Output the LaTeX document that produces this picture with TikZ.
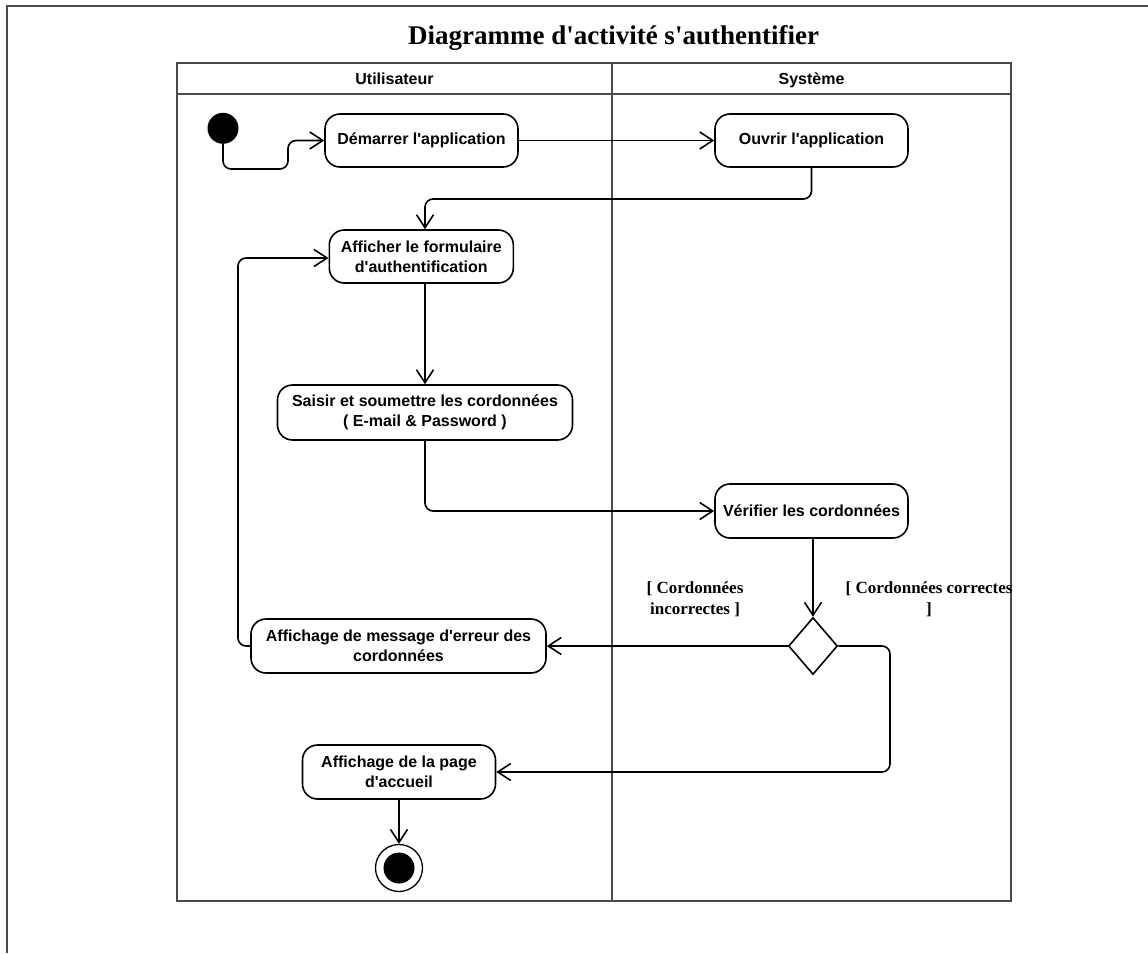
\documentclass[tikz,border=0pt]{standalone}
\usepackage{fontspec}
\setmainfont{Liberation Serif}
\newfontfamily\arialfont{Liberation Sans}
\usetikzlibrary{arrows.meta,shapes.geometric,calc}
\definecolor{framegray}{HTML}{4A4A4A}
\begin{document}
\begin{tikzpicture}[x=1pt,y=-1pt,
  action/.style={draw=black,line width=1.6pt,rounded corners=15pt,align=center,
    inner sep=0pt,font=\arialfont\bfseries\fontsize{16}{20}\selectfont},
  flow/.style={draw=black,line width=1.6pt,rounded corners=8pt,
    -{Straight Barb[length=13pt,width=17pt,line width=1.6pt]}},
  guard/.style={align=center,font=\bfseries\fontsize{17}{20.6}\selectfont},
  lanehead/.style={font=\arialfont\bfseries\fontsize{16}{18}\selectfont,anchor=base},
  frame/.style={draw=framegray,line width=1.7pt}]
\useasboundingbox (0,0) rectangle (1148,953);

% page frame
\draw[frame] (7,953) -- (7,6) -- (1148,6);

% title
\node[anchor=base,font=\bfseries\fontsize{27}{31}\selectfont] (title) at (613.5,44.3)
  {Diagramme d\textquotesingle activité s\textquotesingle authentifier};

% swimlanes
\draw[frame] (176.7,62.7) rectangle (1011,901);
\draw[frame] (176.7,94) -- (1011,94);
\draw[frame] (612,62.7) -- (612,901);
\node[lanehead] (laneU) at (394.5,84) {Utilisateur};
\node[lanehead] (laneS) at (811.5,84) {Système};

% initial and final states
\node[circle,fill=black,minimum size=31pt,inner sep=0pt] (init) at (223,128.3) {};
\node[circle,draw=black,line width=1.3pt,minimum size=47pt,inner sep=0pt] (final) at (399,868) {};
\node[circle,fill=black,minimum size=31pt,inner sep=0pt] (finaldot) at (399,868) {};

% actions
\node[action,minimum width=193pt,minimum height=53pt] (demarrer) at (421.5,140.5) {Démarrer l'application};
\node[action,minimum width=193pt,minimum height=53pt] (ouvrir) at (811.5,140.5) {Ouvrir l'application};
\node[action,minimum width=184pt,minimum height=53pt] (form) at (421.3,256.5) {Afficher le formulaire\\d'authentification};
\node[action,minimum width=295pt,minimum height=55pt] (saisir) at (425,412.5) {Saisir et soumettre les cordonnées\\( E-mail \& Password )};
\node[action,minimum width=193pt,minimum height=54pt] (verif) at (811.5,511) {Vérifier les cordonnées};
\node[action,minimum width=295pt,minimum height=54pt] (erreur) at (398.5,646) {Affichage de message d'erreur des\\cordonnées};
\node[action,minimum width=193pt,minimum height=54pt] (accueil) at (399,772) {Affichage de la page\\d'accueil};

% decision
\node[diamond,draw=black,line width=1.6pt,minimum width=49pt,minimum height=57pt,inner sep=0pt] (dec) at (813,646) {};

% guards
\node[guard] (gIncorrect) at (695,599) {[ Cordonnées\\incorrectes ]};
\node[guard] (gCorrect) at (929,599) {[ Cordonnées correctes\\]};

% control flows
\draw[flow] (init.south) -- (init.south |- 0,169) -- (288,169) -- (288,140.5) -- (demarrer.west);
\draw[flow] (demarrer.east) -- (ouvrir.west);
\draw[flow] (ouvrir.south) -- (ouvrir.south |- 0,199) -- (425,199) -- ([xshift=3.7pt]form.north);
\draw[flow] (form.south -| saisir.north) -- (saisir.north);
\draw[flow] (saisir.south) |- (verif.west);
\draw[flow] (verif.south -| dec.north) -- (dec.north);
\draw[flow] (dec.west) -- (erreur.east);
\draw[flow] (dec.east) -- (890,646) -- (890,772) -- (accueil.east);
\draw[flow] (erreur.west) -- (238,646) -- (238,258) -- (form.west |- 0,258);
\draw[flow] (accueil.south) -- (final.north);
\end{tikzpicture}
\end{document}
